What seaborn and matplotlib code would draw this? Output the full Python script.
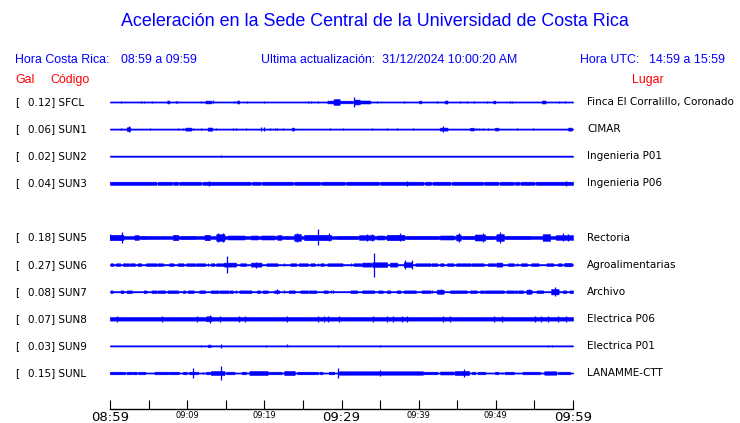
import numpy as np
import matplotlib
matplotlib.use('Agg')
import matplotlib.pyplot as plt
import seaborn as sns

# stations (row order, one empty slot after SUN3)
codes = ['SFCL', 'SUN1', 'SUN2', 'SUN3', 'SUN5', 'SUN6', 'SUN7', 'SUN8', 'SUN9', 'SUNL']
gal = [0.12, 0.06, 0.02, 0.04, 0.18, 0.27, 0.08, 0.07, 0.03, 0.15]
places = ['Finca El Corralillo, Coronado', 'CIMAR', 'Ingenieria P01', 'Ingenieria P06',
          'Rectoria', 'Agroalimentarias', 'Archivo', 'Electrica P06', 'Electrica P01',
          'LANAMME-CTT']

# minutes after 08:59
tick_labels = ['08:59', '09:09', '09:19', '09:29', '09:39', '09:49', '09:59']

# background trace level per station (relative counts)
base_amp = [0.5, 0.5, 0.5, 1.6, 1.4, 0.5, 0.5, 1.8, 0.5, 0.5]

# events: (t0, t1, amp) = burst envelope, (t, amp) = single spike
sfcl = [(1.4, 1.2), (4.0, 1.2), (4.4, 1.2), (5.5, 1.0), (7.45, 7.65, 1.5), (8.5, 1.2), (8.7, 1.2),
        (11.8, 1.2), (12.4, 13.1, 1.4), (13.4, 1.5), (16.1, 1.3), (16.5, 16.7, 1.5), (17.8, 1.2),
        (19.9, 1.0), (25.6, 1.0), (26.1, 1.0), (27.0, 1.2), (28.2, 28.9, 1.4), (29.0, 29.8, 2.8),
        (29.4, 3.3), (29.8, 31.4, 1.3), (31.6, 5.3), (31.7, 32.4, 2.4), (32.4, 33.7, 1.5),
        (34.6, 1.0), (38.1, 1.2), (40.1, 40.3, 1.4), (42.4, 1.0), (43.4, 43.7, 1.5), (45.4, 1.2),
        (46.2, 1.2), (47.2, 1.0), (48.8, 1.2), (49.7, 49.9, 1.4), (51.9, 1.2), (52.1, 1.2),
        (56.0, 56.4, 1.5), (58.2, 1.2), (58.9, 1.2)]
sun1 = [(1.4, 1.2), (2.2, 2.6, 1.8), (2.4, 2.7), (5.2, 1.2), (8.8, 1.0), (9.5, 1.2),
        (9.8, 10.5, 1.5), (10.8, 1.2), (11.8, 1.0), (12.7, 13.2, 1.6), (13.8, 1.2), (16.0, 1.3),
        (16.3, 1.3), (17.6, 1.0), (19.6, 2.0), (20.0, 2.3), (20.7, 1.2), (21.4, 1.2), (21.7, 1.2),
        (22.4, 1.0), (23.6, 23.8, 1.5), (28.5, 1.2), (30.2, 1.0), (34.0, 1.0), (35.9, 1.0),
        (37.2, 1.0), (39.3, 1.0), (42.8, 43.7, 1.5), (43.2, 2.7), (46.7, 47.1, 1.4), (47.4, 1.2),
        (47.8, 1.2), (48.3, 1.2), (49.0, 1.0), (49.9, 50.3, 1.4), (52.8, 1.2), (54.8, 1.2),
        (59.4, 59.8, 1.5)]
sun2 = [(14.4, 1.3)]
sun3 = [(6.05, 6.15, 0.5), (8.05, 8.15, 0.5), (8.85, 8.95, 0.5), (11.85, 11.95, 0.5),
        (18.25, 18.35, 0.5), (19.55, 19.65, 0.5), (23.75, 23.85, 0.5), (27.25, 27.35, 0.5),
        (30.45, 30.55, 0.5), (34.85, 34.95, 0.5), (40.65, 40.75, 0.5), (41.65, 41.75, 0.5),
        (44.15, 44.25, 0.5), (48.35, 48.45, 0.5), (50.35, 50.45, 0.5), (52.35, 52.45, 0.5),
        (53.05, 53.15, 0.5), (55.05, 55.15, 0.5), (12.8, 2.7), (38.5, 2.7), (59.1, 2.7)]
sun5 = [(0.0, 1.7, 2.7), (0.05, 3.0), (1.6, 5.3), (3.2, 3.7, 2.3), (4.1, 4.7, 1.7), (4.9, 6.2, 1.5),
        (6.9, 7.1, 1.5), (8.2, 8.8, 2.7), (9.2, 11.0, 1.7), (12.3, 12.9, 2.7), (13.8, 14.8, 3.3),
        (14.0, 4.7), (14.6, 4.7), (15.3, 17.4, 2.0), (18.3, 19.1, 2.0), (19.6, 21.3, 2.0),
        (21.7, 22.2, 2.3), (22.8, 23.2, 1.7), (23.9, 24.7, 3.3), (24.2, 4.3), (25.2, 26.9, 2.7),
        (26.9, 8.0), (26.9, 28.6, 2.7), (28.4, 4.0), (29.5, 32.0, 1.7), (32.3, 34.2, 2.3),
        (33.3, 3.3), (34.0, 3.3), (34.6, 35.5, 2.0), (35.9, 38.1, 2.7), (37.6, 4.0),
        (38.5, 42.4, 1.7), (42.8, 44.5, 2.0), (44.9, 45.4, 3.0), (45.2, 4.7), (45.8, 47.1, 1.7),
        (47.3, 48.6, 3.0), (48.4, 4.7), (48.8, 49.7, 1.7), (50.1, 51.0, 3.3), (50.6, 5.7),
        (51.4, 54.4, 1.7), (56.1, 57.0, 3.3), (57.8, 60.0, 2.3), (58.7, 4.0), (59.4, 3.7)]
sun6 = [(0.1, 0.4, 1.3), (0.8, 1.3, 1.3), (1.7, 2.4, 1.3), (2.6, 3.2, 1.3), (3.6, 4.0, 1.3),
        (4.7, 6.0, 1.3), (6.2, 6.7, 1.3), (6.9, 1.3), (7.7, 8.2, 1.3), (8.8, 9.5, 1.3),
        (9.9, 11.0, 1.3), (11.2, 12.3, 1.3), (12.7, 1.3), (13.1, 13.5, 1.3), (13.8, 14.8, 1.3),
        (14.8, 16.3, 2.0), (15.1, 8.7), (16.9, 17.6, 1.3), (18.3, 19.6, 2.0), (18.9, 3.0),
        (20.3, 21.7, 1.3), (22.6, 1.3), (23.4, 24.1, 1.3), (24.5, 25.6, 1.3), (26.0, 26.5, 1.3),
        (26.9, 1.3), (27.3, 27.7, 1.3), (28.2, 30.1, 1.3), (31.2, 1.3), (31.6, 32.5, 1.3),
        (32.7, 33.8, 2.0), (34.0, 35.9, 2.3), (34.2, 12.0), (36.3, 37.2, 2.0), (38.1, 39.1, 2.3),
        (38.2, 4.3), (39.1, 4.3), (39.6, 41.5, 1.3), (41.7, 42.4, 1.3), (42.8, 43.2, 1.3),
        (43.7, 44.5, 1.3), (44.9, 46.7, 1.3), (46.9, 48.4, 1.3), (49.0, 49.9, 1.3),
        (50.1, 50.8, 2.0), (51.6, 52.3, 1.3), (52.7, 1.3), (53.3, 54.0, 1.3), (54.6, 55.5, 1.3),
        (56.6, 57.4, 1.3), (58.1, 58.5, 1.3), (58.9, 59.8, 1.7)]
sun7 = [(0.1, 0.3, 1.3), (1.4, 1.7, 1.3), (2.2, 2.8, 1.3), (4.4, 4.7, 1.3), (5.4, 6.0, 1.3),
        (6.2, 7.1, 1.3), (7.5, 8.8, 1.3), (9.5, 9.7, 1.3), (10.1, 10.8, 1.3), (11.6, 12.3, 1.3),
        (13.1, 14.0, 1.3), (14.2, 15.3, 1.3), (15.5, 15.9, 1.3), (16.3, 1.3), (16.8, 18.3, 1.3),
        (19.1, 19.4, 1.3), (19.8, 20.4, 1.3), (21.3, 21.9, 1.3), (21.6, 2.3), (22.6, 1.3),
        (23.2, 23.9, 1.3), (24.7, 25.6, 1.3), (25.8, 26.7, 1.3), (27.7, 28.2, 1.3), (28.6, 1.3),
        (28.9, 1.3), (31.2, 32.0, 1.3), (32.7, 34.2, 1.3), (34.8, 35.3, 1.3), (35.9, 36.3, 1.3),
        (37.2, 37.6, 1.3), (38.1, 39.6, 1.3), (40.4, 41.5, 1.3), (41.7, 1.3), (42.4, 43.2, 2.0),
        (42.9, 2.7), (44.1, 46.2, 1.3), (46.7, 47.5, 1.3), (48.0, 48.4, 1.3), (48.6, 51.0, 1.3),
        (51.4, 52.3, 1.3), (52.5, 52.7, 1.3), (52.9, 53.5, 1.3), (54.0, 54.6, 2.0), (54.3, 2.7),
        (55.3, 56.1, 1.3), (57.2, 58.1, 2.7), (57.7, 4.3), (58.7, 59.1, 1.3), (59.6, 60.0, 1.3)]
sun8 = [(0.9, 2.7), (6.7, 2.7), (11.3, 2.7), (12.5, 13.1, 2.5), (12.9, 3.7), (14.3, 2.7), (16.7, 2.7),
        (17.5, 2.7), (23.0, 2.7), (26.9, 2.7), (27.7, 2.7), (28.3, 2.7), (29.7, 2.7), (34.1, 2.7),
        (35.9, 2.7), (36.7, 2.7), (37.8, 2.7), (38.5, 3.0), (43.1, 2.7), (44.1, 2.7), (49.7, 2.7),
        (50.8, 2.7), (55.1, 2.7), (55.9, 2.7), (56.8, 2.7), (58.1, 2.7), (59.1, 2.7)]
sun9 = [(11.8, 1.0), (12.7, 13.0, 1.3), (14.4, 1.7), (20.2, 1.0), (23.0, 1.5), (29.5, 1.0),
        (35.0, 1.2), (56.7, 1.2), (57.3, 1.2)]
sunl = [(0.0, 0.9, 1.3), (1.0, 1.9, 1.3), (2.2, 2.8, 1.3), (3.0, 3.4, 1.3), (3.7, 4.5, 1.3),
        (5.8, 7.5, 1.3), (7.7, 8.8, 1.3), (9.0, 1.3), (9.5, 9.9, 1.3), (10.3, 11.4, 1.3),
        (10.8, 4.7), (12.0, 1.3), (12.5, 12.9, 1.3), (13.1, 14.8, 2.0), (14.4, 6.7),
        (15.1, 16.1, 1.3), (17.1, 17.6, 1.3), (18.1, 20.4, 2.0), (20.6, 22.2, 1.3),
        (22.6, 23.9, 2.0), (24.3, 26.9, 1.3), (27.2, 27.5, 1.3), (28.4, 29.0, 1.3), (29.6, 4.7),
        (29.7, 34.2, 1.7), (35.0, 3.3), (34.2, 40.6, 1.7), (40.6, 42.4, 1.3), (42.8, 44.5, 1.5),
        (44.7, 46.5, 2.0), (45.9, 4.0), (46.9, 47.3, 1.3), (47.7, 48.6, 1.3), (49.9, 50.3, 1.3),
        (50.8, 1.3), (51.2, 52.3, 1.3), (53.5, 55.7, 1.3), (56.3, 57.8, 1.7), (58.1, 59.6, 1.3)]
traces = [sfcl, sun1, sun2, sun3, sun5, sun6, sun7, sun8, sun9, sunl]

blue = '#0000ff'
red = '#ff0000'
W, H = 740, 423

sns.set_style('white')
plt.rcParams['font.family'] = ['DejaVu Sans']
plt.rcParams['text.color'] = 'black'
plt.rcParams['xtick.color'] = 'black'

fig = plt.figure(figsize=(W / 100, H / 100), dpi=100)
ax = fig.add_axes([110 / W, 1 - 409 / H, (573 - 110) / W, (409 - 90) / H])
row_px = 27.1
s = 1 / row_px  # counts -> row units
ax.set_xlim(0, 60)
ax.set_ylim((409 - 102) / row_px, (90 - 102) / row_px)

t = np.linspace(0, 60, 2401)
for i, (events, base) in enumerate(zip(traces, base_amp)):
    row = i + (1 if i >= 4 else 0)
    env = np.full_like(t, base)
    spikes = []
    for ev in events:
        if len(ev) == 3:
            t0, t1, a = ev
            env[(t >= t0 - 0.03) & (t <= t1 + 0.03)] = a
        else:
            spikes.append(ev)
    ax.fill_between(t, row - env * s, row + env * s, color=blue, lw=0.4)
    ax.hlines(row, 0, 60, color=blue, lw=0.9)
    if spikes:
        st = [p[0] for p in spikes]
        sa = np.array([p[1] for p in spikes])
        ax.vlines(st, row - sa * s, row + sa * s, color=blue, lw=0.9)

    y = 1 - (102 + row * row_px) / H
    fig.text(15 / W, y, '[', fontsize=7.5, va='center', ha='left', color='black')
    fig.text(27.5 / W, y, f'{gal[i]:.2f}] {codes[i]}', fontsize=7.5, va='center', ha='left',
             color='black')
    fig.text(587 / W, y, places[i], fontsize=7.5, va='center', ha='left', color='black')

sns.despine(ax=ax, left=True)
ax.set_yticks([])
ax.spines['bottom'].set_linewidth(1)
ax.spines['bottom'].set_color('black')
ax.set_xticks(np.arange(0, 61, 10))
ax.set_xticklabels(tick_labels)
ax.set_xticks(np.arange(5, 60, 10), minor=True)
ax.tick_params(which='both', axis='x', direction='in', length=6.5, width=0.8,
               color='black', labelcolor='black', bottom=True, pad=1.5)
for k, lab in enumerate(ax.get_xticklabels()):
    lab.set_fontsize(9.5 if k % 3 == 0 else 6)

hf = 'Liberation Sans'
hs = 8.9
fig.text(375 / W, 1 - 22 / H, 'Aceleración en la Sede Central de la Universidad de Costa Rica',
         color=blue, fontsize=12.9, ha='center', va='center', family=hf)
fig.text(15 / W, 1 - 60 / H, 'Hora Costa Rica:', color=blue, fontsize=hs, va='center', family=hf)
fig.text(121 / W, 1 - 60 / H, '08:59 a 09:59', color=blue, fontsize=hs, va='center', family=hf)
fig.text(261 / W, 1 - 60 / H, 'Ultima actualización:  31/12/2024 10:00:20 AM', color=blue,
         fontsize=hs, va='center', family=hf)
fig.text(580 / W, 1 - 60 / H, 'Hora UTC:', color=blue, fontsize=hs, va='center', family=hf)
fig.text(725 / W, 1 - 60 / H, '14:59 a 15:59', color=blue, fontsize=hs, va='center',
         ha='right', family=hf)
fig.text(15 / W, 1 - 80 / H, 'Gal', color=red, fontsize=hs, va='center', family=hf)
fig.text(50 / W, 1 - 80 / H, 'Código', color=red, fontsize=hs, va='center', family=hf)
fig.text(648 / W, 1 - 80 / H, 'Lugar', color=red, fontsize=hs, va='center', ha='center', family=hf)

fig.savefig('out.png', dpi=100)
